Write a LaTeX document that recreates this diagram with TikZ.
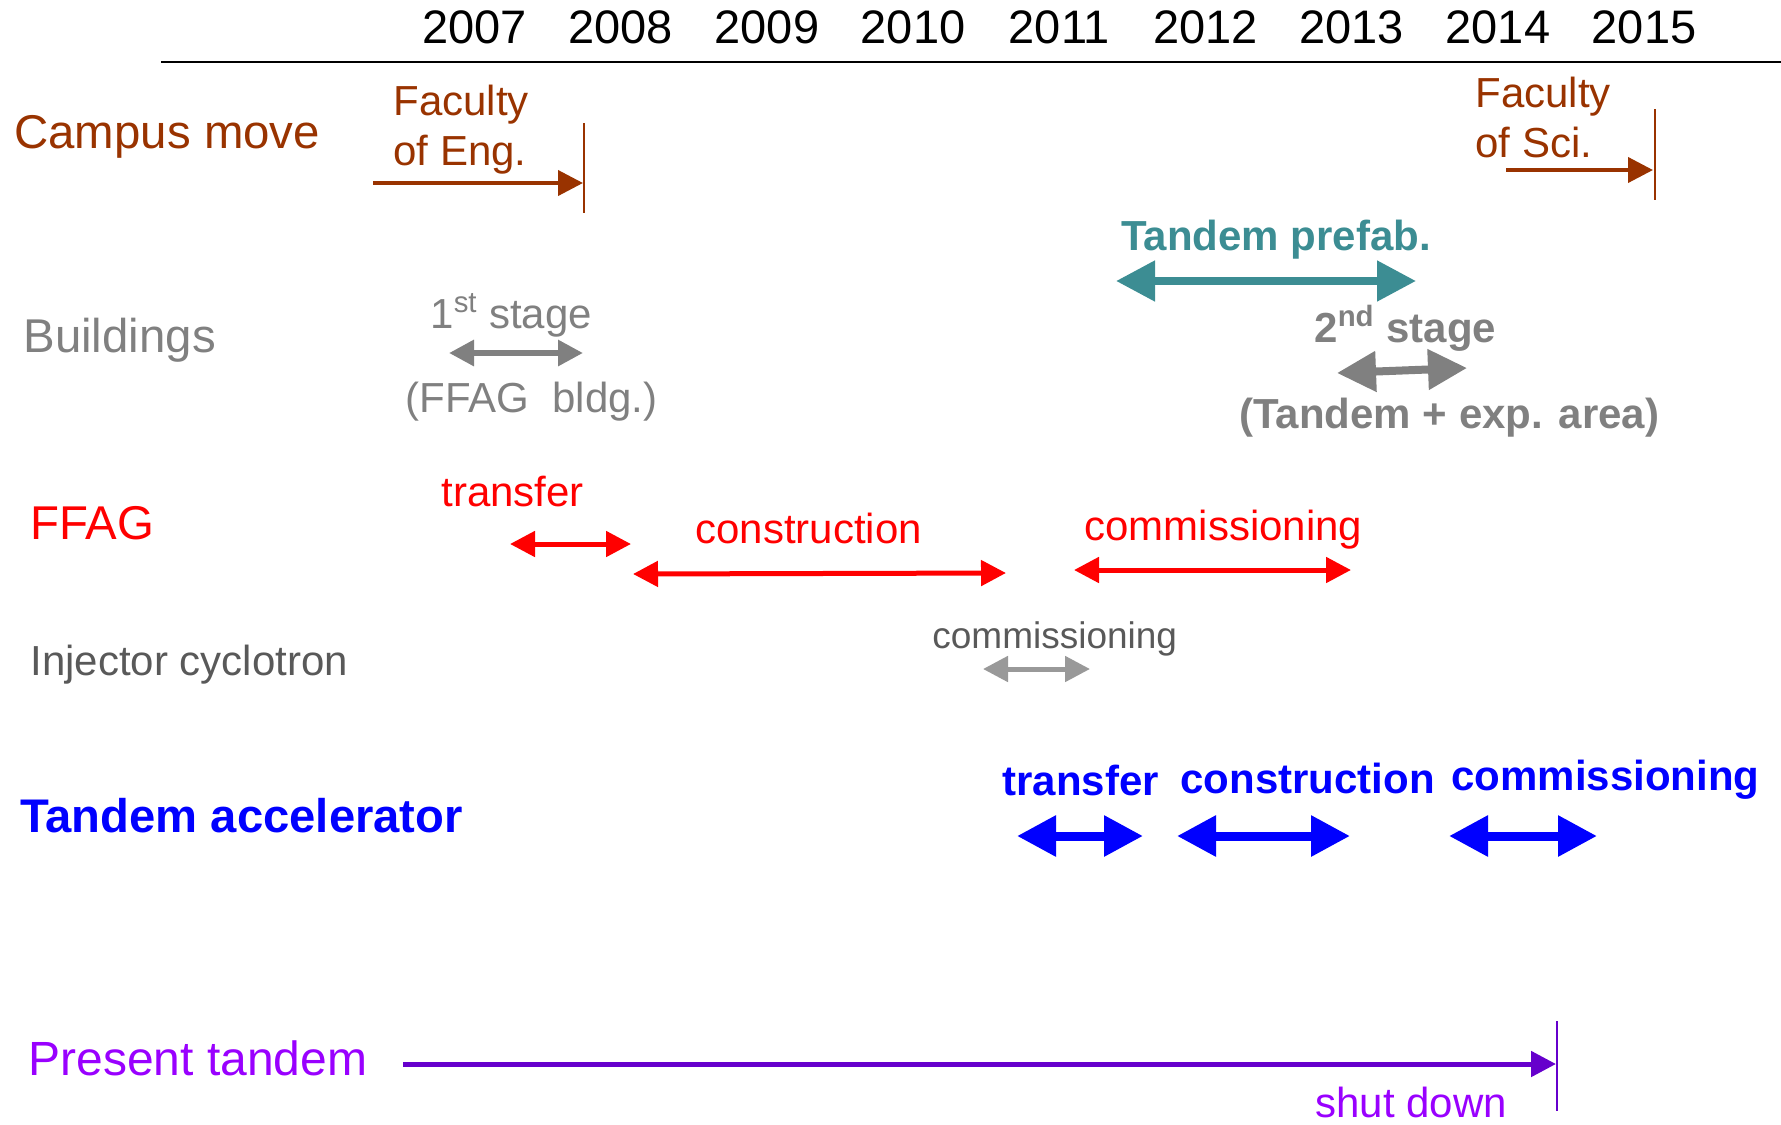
\documentclass[tikz,border=0pt]{standalone}
\usepackage{fontspec}
\setmainfont{Liberation Sans}
\usetikzlibrary{arrows.meta}

\definecolor{brn}{HTML}{993300}
\definecolor{tealb}{HTML}{3C8D93}
\definecolor{gry}{HTML}{808080}
\definecolor{dgry}{HTML}{595959}
\definecolor{lgry}{HTML}{999999}
\definecolor{vio}{HTML}{9900FF}
\definecolor{dvio}{HTML}{6600CC}

\tikzset{
  txt/.style={anchor=base west, inner sep=0pt, font=\fontsize{21}{25}\selectfont},
  cat/.style={anchor=base west, inner sep=0pt, font=\fontsize{23.7}{28}\selectfont},
  yearlbl/.style={anchor=base, inner sep=0pt, font=\fontsize{23.5}{28}\selectfont},
  onehead/.style={-{Triangle[length=12.5pt,width=12.5pt]}, line width=2pt},
  thinspan/.style={{Triangle[length=12.5pt,width=12.5pt]}-{Triangle[length=12.5pt,width=12.5pt]}, line width=2.5pt},
  fatspan/.style={{Triangle[length=19.5pt,width=19.5pt]}-{Triangle[length=19.5pt,width=19.5pt]}, line width=4.5pt},
  mark line/.style={line width=0.75pt}
}

\begin{document}
\begin{tikzpicture}[x=0.5pt, y=-0.5pt]
    \useasboundingbox (0,0) rectangle (1781,1124);

    % time axis
    \foreach \yr [count=\i from 0] in {2007,...,2015}
      \node[yearlbl] (y\yr) at (474.5+146.2*\i, 43) {\yr};
    \coordinate (ax0) at (161,62);
    \coordinate (ax1) at (1781,62);
    \draw[line width=1pt] (ax0) -- (ax1);

    % campus move
    \node[cat, text=brn] (campus) at (14,148) {Campus move};
    \node[txt, text=brn] (eng1) at (393,115) {Faculty};
    \node[txt, text=brn] (eng2) at (393,165) {of Eng.};
    \node[txt, text=brn] (sci1) at (1475,107) {Faculty};
    \node[txt, text=brn] (sci2) at (1475,157) {of Sci.};
    \coordinate (ea) at (373,183);   \coordinate (eb) at (583,183);
    \coordinate (et) at (584,123);   \coordinate (eu) at (584,213);
    \coordinate (sa) at (1506,170);  \coordinate (sb) at (1653,170);
    \coordinate (st) at (1655,109);  \coordinate (su) at (1655,200);
    \draw[onehead, brn] (ea) -- (eb);
    \draw[mark line, brn] (et) -- (eu);
    \draw[onehead, brn] (sa) -- (sb);
    \draw[mark line, brn] (st) -- (su);

    % buildings
    \node[cat, text=gry] (bldg) at (23,352) {Buildings};
    \node[txt, text=gry] (stg1) at (430,328) {1\textsuperscript{st} stage};
    \node[txt, text=gry] (stg1b) at (405,412) {(FFAG\ \ bldg.)};
    \coordinate (b1a) at (449,353);  \coordinate (b1b) at (583,353);
    \draw[thinspan, line width=3pt, gry] (b1a) -- (b1b);

    \node[txt, text=tealb, font=\bfseries\fontsize{21}{25}\selectfont] (pref) at (1121,250) {Tandem prefab.};
    \coordinate (pa) at (1116,281);  \coordinate (pb) at (1416,281);
    \draw[fatspan, line width=4pt, tealb] (pa) -- (pb);

    \node[txt, text=gry, font=\bfseries\fontsize{21}{25}\selectfont] (stg2) at (1314,342) {2\textsuperscript{nd} stage};
    \node[txt, text=gry, font=\bfseries\fontsize{21}{25}\selectfont] (stg2b) at (1239,428) {(Tandem + exp. area)};
    \coordinate (b2a) at (1337,373); \coordinate (b2b) at (1467,368);
    \draw[fatspan, line width=4pt, gry] (b2a) -- (b2b);

    % FFAG
    \node[cat, text=red] (ffag) at (30,539) {FFAG};
    \node[txt, text=red] (ftr) at (441,506) {transfer};
    \node[txt, text=red] (fco) at (695,543) {construction};
    \node[txt, text=red] (fcm) at (1084,540) {commissioning};
    \coordinate (f1a) at (510,544);  \coordinate (f1b) at (631,544);
    \coordinate (f2a) at (633,574);  \coordinate (f2b) at (1006,573);
    \coordinate (f3a) at (1074,570); \coordinate (f3b) at (1351,570);
    \draw[thinspan, red] (f1a) -- (f1b);
    \draw[thinspan, red] (f2a) -- (f2b);
    \draw[thinspan, red] (f3a) -- (f3b);

    % injector
    \node[txt, text=dgry] (inj) at (30,675) {Injector cyclotron};
    \node[txt, text=dgry, font=\fontsize{18.5}{22}\selectfont] (icm) at (932,648) {commissioning};
    \coordinate (ia) at (983,669);   \coordinate (ib) at (1090,669);
    \draw[thinspan, lgry] (ia) -- (ib);

    % tandem accelerator
    \node[cat, text=blue, font=\bfseries\fontsize{23.6}{28}\selectfont] (tacc) at (20,832) {Tandem accelerator};
    \node[txt, text=blue, font=\bfseries\fontsize{21}{25}\selectfont] (ttr) at (1002,795) {transfer};
    \node[txt, text=blue, font=\bfseries\fontsize{21}{25}\selectfont] (tco) at (1180,793) {construction};
    \node[txt, text=blue, font=\bfseries\fontsize{21}{25}\selectfont] (tcm) at (1451,790) {commissioning};
    \coordinate (t1a) at (1017,836); \coordinate (t1b) at (1143,836);
    \coordinate (t2a) at (1177,836); \coordinate (t2b) at (1350,836);
    \coordinate (t3a) at (1449,836); \coordinate (t3b) at (1597,836);
    \draw[fatspan, blue] (t1a) -- (t1b);
    \draw[fatspan, blue] (t2a) -- (t2b);
    \draw[fatspan, blue] (t3a) -- (t3b);

    % present tandem
    \node[cat, text=vio, font=\fontsize{24}{28}\selectfont] (pres) at (28,1075) {Present tandem};
    \node[txt, text=vio] (shut) at (1315,1117) {shut down};
    \coordinate (ra) at (403,1064);  \coordinate (rb) at (1556,1064);
    \coordinate (rt) at (1557,1021); \coordinate (ru) at (1557,1111);
    \draw[onehead, line width=2.5pt, dvio] (ra) -- (rb);
    \draw[mark line, dvio] (rt) -- (ru);
\end{tikzpicture}
\end{document}
